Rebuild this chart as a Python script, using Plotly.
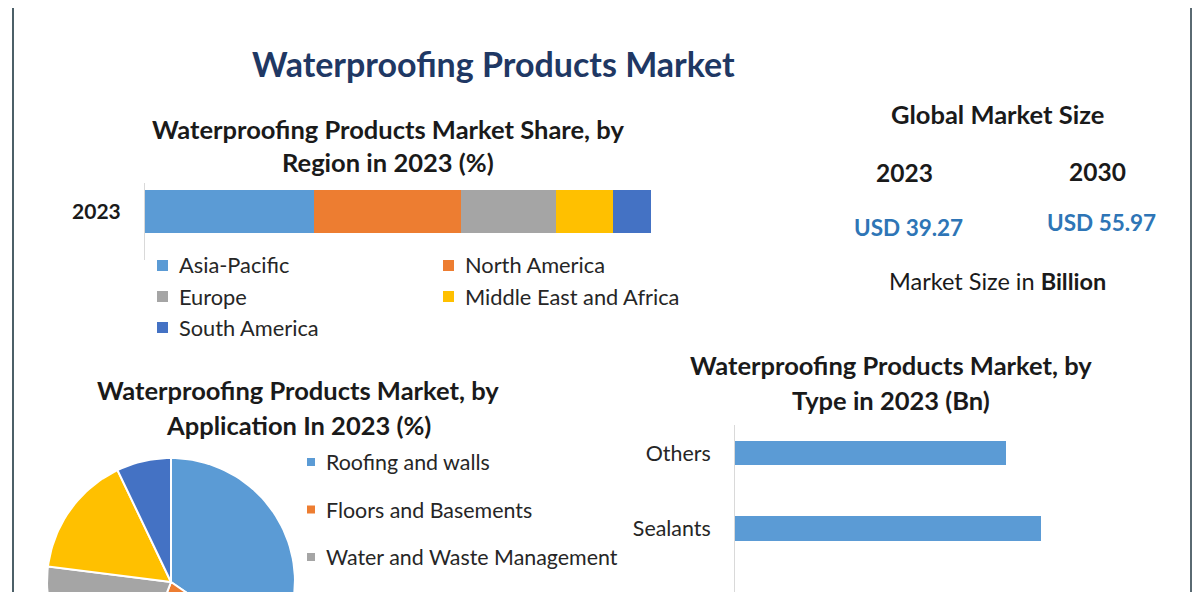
import math
import plotly.graph_objects as go

# The page places the figure 8px in from the top-left (body margin); size the
# figure so it fits the 1200x600 window exactly and work in window pixels.
WIN_W, WIN_H = 1200, 600
OFF = 8
W, H = WIN_W - 2 * OFF, WIN_H - 2 * OFF
BOTTOM = OFF + H          # window y of the figure's bottom edge
RIGHT = OFF + W

# ---------------- data ----------------
region_names = ["Asia-Pacific", "North America", "Europe", "Middle East and Africa", "South America"]
region_share = [33.4, 29.0, 18.8, 11.3, 7.5]
region_colors = ["#5B9BD5", "#ED7D31", "#A5A5A5", "#FFC000", "#4472C4"]
region_year = "2023"

app_names = ["Roofing and walls", "Floors and Basements", "Water and Waste Management", "Tunnel Liners", "Others"]
app_share = [34.6, 21.2, 21.2, 15.9, 7.1]
app_colors = ["#5B9BD5", "#ED7D31", "#A5A5A5", "#FFC000", "#4472C4"]

type_names = ["Coatings", "Sealants", "Others"]
type_values = [9.2, 10.05, 8.9]

market_years = ["2023", "2030"]
market_values = ["USD 39.27", "USD 55.97"]

FONT = "Lato"
TXT = "#1a1a1a"

def px(x):
    return (x - OFF) / W

def py(y):
    return 1 - (y - OFF) / H

fig = go.Figure()

# ---------------- stacked region bar ----------------
for name, val, col in zip(region_names, region_share, region_colors):
    fig.add_trace(go.Bar(
        x=[val], y=[region_year], orientation="h", name=name,
        marker=dict(color=col, line=dict(width=0)), width=0.8,
        xaxis="x", yaxis="y", showlegend=False,
    ))

# ---------------- type bars ----------------
fig.add_trace(go.Bar(
    x=type_values, y=type_names, orientation="h",
    marker=dict(color="#5B9BD5", line=dict(width=0)), width=0.33,
    xaxis="x2", yaxis="y2", showlegend=False,
))

# ---------------- pie (on px-unit cartesian axes so it is cut by the page edge) ----------------
PIE_TOP, PIE_RIGHT = 450, 360
cx, cy, r = 171, BOTTOM - 582, 124      # x in window px, y measured up from figure bottom
total = sum(app_share)
start = 0.0
for name, val, col in zip(app_names, app_share, app_colors):
    a0 = start
    a1 = start + val / total * 360.0
    n = max(3, int((a1 - a0) / 2) + 1)
    xs, ys = [cx], [cy]
    for k in range(n + 1):
        a = math.radians(a0 + (a1 - a0) * k / n)
        xs.append(cx + r * math.sin(a))
        ys.append(cy + r * math.cos(a))
    xs.append(cx)
    ys.append(cy)
    fig.add_trace(go.Scatter(
        x=xs, y=ys, fill="toself", fillcolor=col, mode="lines",
        line=dict(color="white", width=2), name=name,
        xaxis="x3", yaxis="y3", showlegend=False, hoverinfo="name",
    ))
    start = a1

annotations = []

def ann(text, x, y, size, bold=False, color=TXT, xanchor="center"):
    annotations.append(dict(
        text=text, x=px(x), y=py(y), xref="paper", yref="paper",
        xanchor=xanchor, yanchor="middle", showarrow=False,
        font=dict(family=FONT, size=size, color=color, weight="bold" if bold else "normal"),
    ))

# titles
ann("Waterproofing Products Market", 493, 64, 34, True, "#1F3864")
ann("Waterproofing Products Market Share, by", 388, 129, 25.5, True)
ann("Region in 2023 (%)", 388, 162, 25.5, True)
ann("Waterproofing Products Market, by", 298, 390, 25.5, True)
ann("Application In 2023 (%)", 298, 425, 25.5, True)
ann("Waterproofing Products Market, by", 891, 365, 25.5, True)
ann("Type in 2023 (Bn)", 891, 400, 25.5, True)

# global market size panel
ann("Global Market Size", 997, 114, 25.5, True)
for yr, v, xc, yy, yv in zip(market_years, market_values, [904, 1097], [173, 171], [227, 223]):
    ann(yr, xc, yy, 24.5, True)
    ann(v, xc + 4, yv, 22.5, True, "#2E75B6")
ann("Market Size in <b>Billion</b>", 997, 281, 23.5)

shapes = []

# region legend (2 columns)
leg_pos = [(163, 265), (449, 265), (163, 296), (449, 296), (163, 327)]
for (lx, ly), name, col in zip(leg_pos, region_names, region_colors):
    shapes.append(dict(type="rect", xref="paper", yref="paper",
                       x0=px(lx - 6), x1=px(lx + 5), y0=py(ly + 6), y1=py(ly - 5),
                       fillcolor=col, line=dict(width=0)))
    ann(name, lx + 14, ly, 21.8, False, "#262626", "left")

# pie legend (entries whose row lies below the visible area are not drawn)
for i, (name, col) in enumerate(zip(app_names, app_colors)):
    ly = 462 + i * 47.5
    if ly > BOTTOM:
        continue
    shapes.append(dict(type="rect", xref="paper", yref="paper",
                       x0=px(307), x1=px(315), y0=py(ly + 4), y1=py(ly - 4),
                       fillcolor=col, line=dict(width=0)))
    ann(name, 324, ly, 21.4, False, "#262626", "left")

# frame lines
shapes.append(dict(type="rect", xref="paper", yref="paper", x0=px(12), x1=px(14), y0=0, y1=1,
                   fillcolor="#4c6068", line=dict(width=0)))
shapes.append(dict(type="rect", xref="paper", yref="paper", x0=px(RIGHT - 2), x1=1, y0=0, y1=1,
                   fillcolor="#5a6a72", line=dict(width=0)))

hidden_x = dict(showgrid=False, zeroline=False, showticklabels=False, ticks="", showline=False, fixedrange=True)

# type axis: category centres at window y 604 (0), 529 (1), 453 (2)
step = 75.5
y2_range = [(604 - BOTTOM) / step, (604 - 425) / step]

fig.update_layout(
    width=W, height=H,
    margin=dict(l=0, r=0, t=0, b=0),
    paper_bgcolor="white", plot_bgcolor="rgba(0,0,0,0)",
    barmode="stack",
    font=dict(family=FONT, color=TXT),
    xaxis=dict(domain=[px(145), px(651)], range=[0, 100], **hidden_x),
    yaxis=dict(domain=[py(260), py(183)], type="category", range=[-0.902, 0.53],
               showline=True, linecolor="#d9d9d9", linewidth=1, showgrid=False, zeroline=False,
               ticks="", ticklabelstandoff=19,
               tickfont=dict(family=FONT, size=21, color=TXT, weight="bold")),
    xaxis2=dict(domain=[px(735), px(1161)], range=[0, 14], anchor="y2", **hidden_x),
    yaxis2=dict(domain=[0, py(425)], type="category", anchor="x2",
                categoryorder="array", categoryarray=type_names,
                range=y2_range,
                showline=True, linecolor="#d9d9d9", linewidth=1, showgrid=False, zeroline=False,
                ticks="", ticklabelstandoff=19,
                tickfont=dict(family=FONT, size=21.4, color="#262626")),
    xaxis3=dict(domain=[0, px(PIE_RIGHT)], range=[OFF, PIE_RIGHT], anchor="y3", **hidden_x),
    yaxis3=dict(domain=[0, py(PIE_TOP)], range=[0, BOTTOM - PIE_TOP], anchor="x3", **hidden_x),
    annotations=annotations,
    shapes=shapes,
)

fig.write_html("out.html")
